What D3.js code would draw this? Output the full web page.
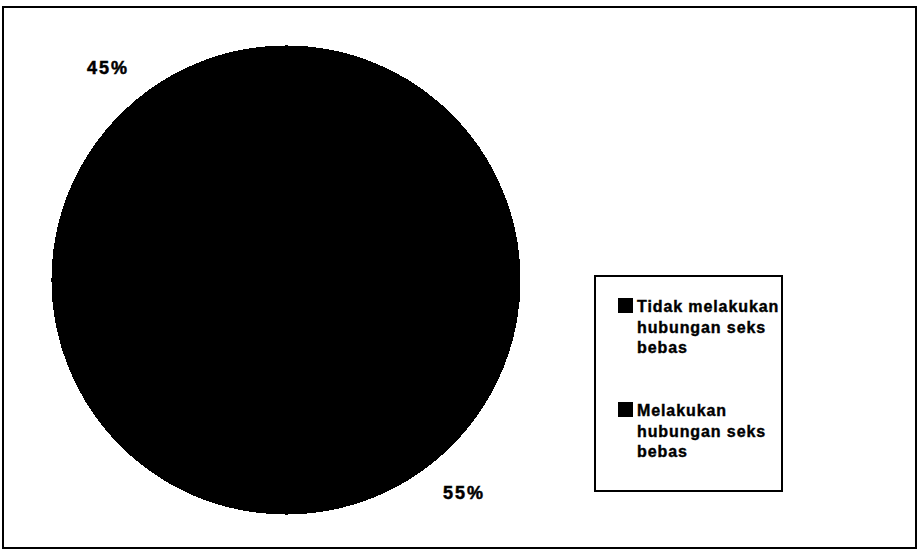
<!DOCTYPE html>
<html>
<head>
<meta charset="utf-8">
<script src="https://cdn.jsdelivr.net/npm/d3@7"></script>
<style>
  body { margin: 0; background: #fff; }
  text { font-family: "Liberation Sans", Arial, sans-serif; font-weight: bold; }
</style>
</head>
<body>
<div id="chart"></div>
<script>
const categories = ["Melakukan hubungan seks bebas", "Tidak melakukan hubungan seks bebas"];
const values = [55, 45];
const percentLabels = ["55%", "45%"];
const legendLines = [
  ["Tidak melakukan", "hubungan seks", "bebas"],
  ["Melakukan", "hubungan seks", "bebas"]
];

const width = 918, height = 551;
const svg = d3.select("#chart").append("svg")
  .attr("width", width)
  .attr("height", height);

// outer frame
svg.append("rect")
  .attr("x", 3).attr("y", 7)
  .attr("width", 913).attr("height", 541)
  .attr("fill", "none")
  .attr("stroke", "#000")
  .attr("stroke-width", 2);

const cx = 286, cy = 280, radius = 234;
const start = 41 * Math.PI / 180;

const pie = d3.pie().sort(null).value(d => d)
  .startAngle(start).endAngle(start + 2 * Math.PI);
const arcs = pie(values);

const arc = d3.arc().innerRadius(0).outerRadius(radius);
const labelArc = d3.arc().innerRadius(277).outerRadius(277);

const g = svg.append("g").attr("transform", `translate(${cx},${cy})`);

g.selectAll("path")
  .data(arcs)
  .enter()
  .append("path")
  .attr("d", arc)
  .attr("fill", "#000")
  .attr("stroke", "#000")
  .attr("stroke-width", 1)
  .attr("shape-rendering", "crispEdges");

g.selectAll("text.pct")
  .data(arcs)
  .enter()
  .append("text")
  .attr("class", "pct")
  .attr("transform", d => `translate(${labelArc.centroid(d)})`)
  .attr("text-anchor", "middle")
  .attr("dy", "0.35em")
  .attr("font-size", 18)
  .attr("letter-spacing", 2)
  .attr("stroke", "#000")
  .attr("stroke-width", 0.5)
  .text((d, i) => percentLabels[i]);

// legend
const legend = svg.append("g");
legend.append("rect")
  .attr("x", 595).attr("y", 276)
  .attr("width", 187).attr("height", 215)
  .attr("fill", "#fff")
  .attr("stroke", "#000")
  .attr("stroke-width", 2);

const entryY = d3.scaleOrdinal().domain([0, 1]).range([312, 416]);

const item = legend.selectAll("g.item")
  .data(legendLines)
  .enter()
  .append("g")
  .attr("class", "item")
  .attr("transform", (d, i) => `translate(0,${entryY(i)})`);

item.append("rect")
  .attr("x", 618).attr("y", -14)
  .attr("width", 15).attr("height", 15)
  .attr("fill", "#000");

item.append("text")
  .attr("x", 637)
  .attr("font-size", 16)
  .attr("letter-spacing", 0.9)
  .attr("stroke", "#000")
  .attr("stroke-width", 0.4)
  .selectAll("tspan")
  .data(d => d)
  .enter()
  .append("tspan")
  .attr("x", 637)
  .attr("dy", (d, i) => i === 0 ? 0 : 20.5)
  .text(d => d);
</script>
</body>
</html>
